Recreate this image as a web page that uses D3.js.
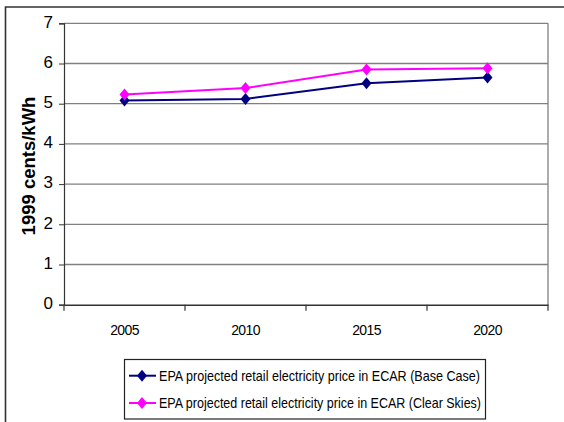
<!DOCTYPE html>
<html>
<head>
<meta charset="utf-8">
<script src="https://cdn.jsdelivr.net/npm/d3@7"></script>
<style>
  html, body { margin: 0; padding: 0; background: #fff; }
  svg { display: block; font-family: "Liberation Sans", Arial, sans-serif; }
</style>
</head>
<body>
<svg id="chart" width="564" height="422"></svg>
<script>
const years = ["2005", "2010", "2015", "2020"];
const baseCase = [5.08, 5.12, 5.51, 5.65];
const clearSkies = [5.23, 5.39, 5.85, 5.88];
const yTicks = [0, 1, 2, 3, 4, 5, 6, 7];
const seriesNames = [
  "EPA projected retail electricity price in ECAR (Base Case)",
  "EPA projected retail electricity price in ECAR (Clear Skies)"
];
const seriesColors = ["#000080", "#ff00ff"];

const svg = d3.select("#chart");
const L = 64, R = 548, T = 23.3, B = 304.7;

// outer frame
svg.append("path").attr("d", "M5.5,422 V7 H564")
  .attr("fill", "none").attr("stroke", "#333").attr("stroke-width", 1.6);

const x = d3.scaleBand().domain(years).range([L, R]);
const y = d3.scaleLinear().domain([0, 7]).range([B, T]);

// gridlines
svg.append("g").selectAll("line").data(yTicks.filter(d => d > 0)).join("line")
  .attr("x1", L).attr("x2", R)
  .attr("y1", d => y(d)).attr("y2", d => y(d))
  .attr("stroke", "#808080").attr("stroke-width", 1.3);
// right border of plot
svg.append("line").attr("x1", R).attr("x2", R).attr("y1", T).attr("y2", B)
  .attr("stroke", "#808080").attr("stroke-width", 1.3);

// y axis
const yAxis = svg.append("g").attr("transform", `translate(${L},0)`)
  .call(d3.axisLeft(y).tickValues(yTicks).tickSize(5).tickPadding(6).tickFormat(d3.format("d")));
yAxis.select(".domain").attr("stroke", "#333").attr("stroke-width", 1.2);
yAxis.selectAll(".tick line").attr("stroke", "#333");
yAxis.selectAll("text").attr("font-size", 17).attr("fill", "#000")
  .attr("font-family", "Liberation Sans, Arial, sans-serif").attr("dy", "0.22em");

// x axis
const xAxis = svg.append("g").attr("transform", `translate(0,${B})`)
  .call(d3.axisBottom(x).tickSize(0).tickPadding(20));
xAxis.select(".domain").attr("stroke", "#333").attr("stroke-width", 1.4);
xAxis.selectAll("text").attr("font-size", 14).attr("fill", "#000")
  .attr("letter-spacing", "-0.6px")
  .attr("font-family", "Liberation Sans, Arial, sans-serif");
// x tick marks at category boundaries
const bounds = years.map(d => x(d)).concat([x(years[years.length - 1]) + x.bandwidth()]);
svg.append("g").selectAll("line").data(bounds).join("line")
  .attr("x1", d => d).attr("x2", d => d)
  .attr("y1", B).attr("y2", B + 6)
  .attr("stroke", "#333").attr("stroke-width", 1.2);

// y title
svg.append("text")
  .attr("transform", `translate(35,${(T + B) / 2 + 2}) rotate(-90)`)
  .attr("text-anchor", "middle")
  .attr("font-size", 18.5).attr("font-weight", "bold")
  .attr("font-family", "Liberation Sans, Arial, sans-serif")
  .text("1999 cents/kWh");

const cx = d => x(d) + x.bandwidth() / 2;
const diamond = (px, py, w, h) => `M${px},${py - h} L${px + w},${py} L${px},${py + h} L${px - w},${py} Z`;

const allSeries = [baseCase, clearSkies];
allSeries.forEach((vals, i) => {
  const line = d3.line().x((d, j) => cx(years[j])).y(d => y(d));
  svg.append("path").datum(vals).attr("d", line)
    .attr("fill", "none").attr("stroke", seriesColors[i]).attr("stroke-width", 2);
  svg.append("g").selectAll("path").data(vals).join("path")
    .attr("d", (d, j) => diamond(cx(years[j]), y(d), 5, 6))
    .attr("fill", seriesColors[i]);
});

// legend
const lg = svg.append("g");
lg.append("rect").attr("x", 124.5).attr("y", 359.5).attr("width", 361).attr("height", 59.5)
  .attr("fill", "#fff").attr("stroke", "#222").attr("stroke-width", 1.2);
seriesNames.forEach((name, i) => {
  const ry = [375.7, 403][i];
  lg.append("line").attr("x1", 129).attr("x2", 156).attr("y1", ry).attr("y2", ry)
    .attr("stroke", seriesColors[i]).attr("stroke-width", 2);
  lg.append("path").attr("d", diamond(142, ry, 5, 6)).attr("fill", seriesColors[i]);
  lg.append("text").attr("x", 159).attr("y", ry + 5)
    .attr("font-size", 14.5).attr("font-family", "Liberation Sans, Arial, sans-serif")
    .attr("textLength", i === 0 ? 321 : 322).attr("lengthAdjust", "spacingAndGlyphs")
    .text(name);
});
</script>
</body>
</html>
